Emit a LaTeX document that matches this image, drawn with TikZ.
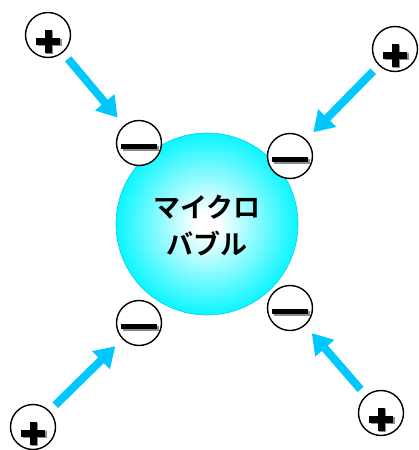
\documentclass[tikz,border=0pt]{standalone}
\usepackage{fontspec}
\newfontfamily\jpfont{Noto Sans CJK JP}[BoldFont={* Bold}]
\usetikzlibrary{arrows.meta,calc}
\definecolor{arrowcyan}{RGB}{0,200,255}
\definecolor{ballcyan}{RGB}{0,245,255}
\definecolor{balledge}{RGB}{0,228,252}
\definecolor{ballline}{RGB}{0,205,240}
\pgfdeclareradialshading{bubble}{\pgfpoint{0bp}{0bp}}{color(0bp)=(white); color(3bp)=(white); color(26bp)=(ballcyan); color(50bp)=(balledge)}
\newcommand\mkminus[1]{%
  \fill[black!45] ($(#1)+(-16.5,2.5)$) rectangle ++(36,5);
  \fill[black] ($(#1)+(-18,1)$) rectangle ++(36,5);}
\newcommand\mkplus[1]{%
  \fill[black!45] ($(#1)+(-10.5,4)$) rectangle ++(24,7);
  \fill[black!45] ($(#1)+(-2,-4)$) rectangle ++(7,23);
  \fill[black] ($(#1)+(-12,2.5)$) rectangle ++(24,7);
  \fill[black] ($(#1)+(-3.5,-5.5)$) rectangle ++(7,23);}
\begin{document}
\begin{tikzpicture}[x=1pt,y=-1pt,
  charge/.style={circle,draw=black,line width=1.4pt,fill=white,minimum size=45pt,inner sep=0pt},
  flow/.style={arrowcyan,line width=8pt,-{Triangle[length=20pt,width=24pt]},shorten <=8pt,shorten >=10pt},
  ballstyle/.style={circle,minimum size=182pt,inner sep=0pt,shading=bubble,draw=ballline,line width=0.6pt},
  label/.style={font=\jpfont\bfseries\fontsize{27}{37}\selectfont,align=center,text=black}]
\useasboundingbox (0,0) rectangle (418,450);
\node[ballstyle] (ball) at (207,224) {};
\node[label] (txt) at (207,226) {マイクロ\\バブル};
% negative charges
\node[charge] (m1) at (139,143) {};
\node[charge] (m2) at (290,156) {};
\node[charge] (m3) at (139,323) {};
\node[charge] (m4) at (290,308) {};
% positive charges
\node[charge] (p1) at (48,35) {};
\node[charge] (p2) at (395,49) {};
\node[charge] (p3) at (33,427) {};
\node[charge] (p4) at (381,413) {};
\mkminus{m1}\mkminus{m2}\mkminus{m3}\mkminus{m4}
\mkplus{p1}\mkplus{p2}\mkplus{p3}\mkplus{p4}
\draw[flow] (p1) -- (m1);
\draw[flow] (p2) -- (m2);
\draw[flow] (p3) -- (m3);
\draw[flow] (p4) -- (m4);
\end{tikzpicture}
\end{document}
